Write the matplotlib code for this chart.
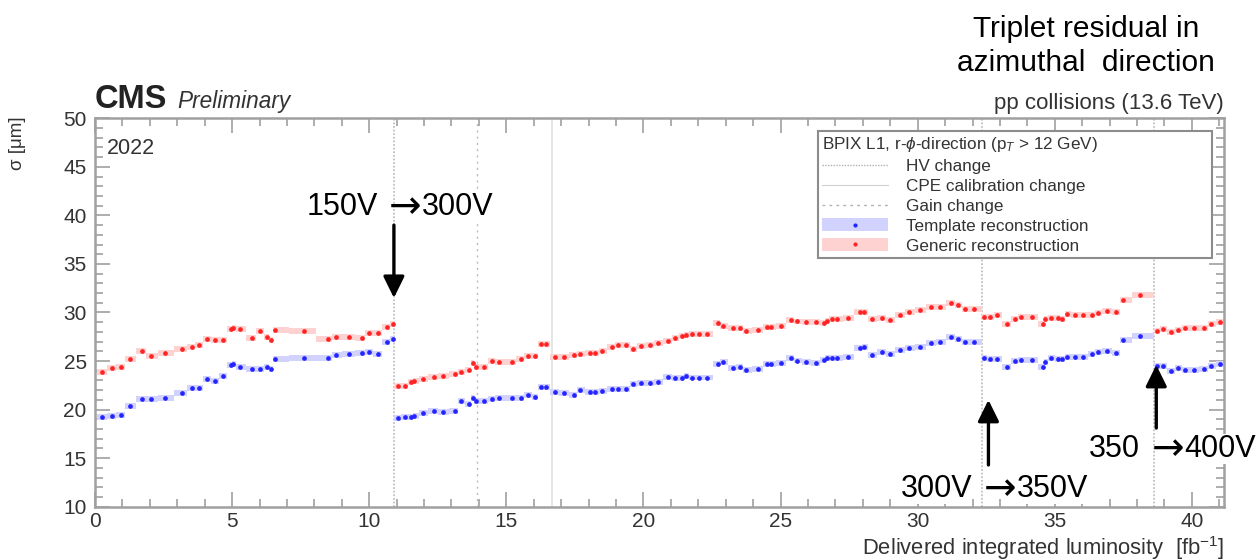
import numpy as np
import matplotlib
matplotlib.use("Agg")
import matplotlib.pyplot as plt
from matplotlib.lines import Line2D
from matplotlib.patches import Patch
from matplotlib.ticker import MultipleLocator

plt.rcParams['font.family'] = ['Liberation Sans', 'DejaVu Sans']
plt.rcParams['mathtext.fontset'] = 'custom'
plt.rcParams['mathtext.rm'] = 'Liberation Sans'
plt.rcParams['mathtext.it'] = 'Liberation Sans:italic'
plt.rcParams['mathtext.bf'] = 'Liberation Sans:bold'

# ---- luminosity of each run block [fb^-1] ----
lumi = np.array([
    0.25, 0.62, 0.93, 1.29, 1.72, 2.03, 2.55, 3.19, 3.53, 3.79,
    4.08, 4.36, 4.67, 4.96, 5.04, 5.27, 5.73, 6.03, 6.26, 6.41,
    6.56, 7.62, 8.51, 8.78, 9.26, 9.72, 9.99, 10.31, 10.64, 10.86,
    11.04, 11.30, 11.53, 11.65, 11.96, 12.36, 12.69, 13.11, 13.36, 13.63,
    13.77, 13.88, 14.17, 14.46, 14.72, 15.19, 15.53, 15.78, 16.06, 16.28,
    16.46, 16.76, 17.11, 17.48, 17.70, 18.04, 18.25, 18.50, 18.86, 19.08,
    19.38, 19.62, 19.92, 20.23, 20.53, 20.91, 21.16, 21.40, 21.56, 21.78,
    22.04, 22.33, 22.71, 22.90, 23.27, 23.51, 23.75, 24.19, 24.51, 24.64,
    25.00, 25.38, 25.60, 25.94, 26.28, 26.57, 26.70, 26.86, 27.07, 27.46,
    27.89, 28.04, 28.35, 28.70, 28.98, 29.37, 29.68, 30.09, 30.49, 30.83,
    31.21, 31.48, 31.74, 32.05,
    32.43, 32.65, 32.89, 33.24, 33.54, 33.75, 34.17, 34.58, 34.65, 34.85,
    35.13, 35.25, 35.46, 35.74, 36.04, 36.35, 36.57, 36.90, 37.24, 37.50,
    38.11,
    38.72, 38.96, 39.23, 39.51, 39.76, 40.08, 40.44, 40.70, 41.03,
])

# triplet residual width, generic reconstruction [um]
sigma_generic = np.array([
    23.90, 24.30, 24.35, 25.20, 26.07, 25.55, 25.80, 26.24, 26.48, 26.69,
    27.27, 27.20, 27.20, 28.27, 28.37, 28.27, 27.40, 28.06, 27.50, 27.17,
    28.17, 28.13, 27.30, 27.44, 27.47, 27.37, 27.89, 27.89, 28.54, 28.85,
    22.43, 22.43, 22.84, 22.98, 23.12, 23.33, 23.46, 23.63, 23.84, 24.05,
    24.83, 24.39, 24.39, 25.00, 24.86, 24.90, 25.21, 25.55, 25.52, 26.72,
    26.75, 25.42, 25.42, 25.62, 25.73, 25.83, 25.83, 26.04, 26.48, 26.69,
    26.69, 26.21, 26.52, 26.69, 26.89, 27.07, 27.37, 27.61, 27.68, 27.82,
    27.78, 27.75, 28.92, 28.61, 28.40, 28.40, 28.13, 28.16, 28.54, 28.54,
    28.61, 29.20, 29.08, 29.02, 29.02, 28.89, 29.15, 29.36, 29.36, 29.40,
    30.08, 30.08, 29.36, 29.43, 29.23, 29.77, 30.05, 30.23, 30.60, 30.60,
    30.98, 30.81, 30.39, 30.36,
    29.54, 29.57, 29.71, 28.85, 29.36, 29.50, 29.50, 28.78, 29.30, 29.47,
    29.47, 29.36, 29.81, 29.77, 29.71, 29.77, 29.98, 30.12, 30.08, 31.29,
    31.80,
    28.13, 28.33, 28.03, 28.23, 28.40, 28.44, 28.37, 28.82, 28.98,
])

# triplet residual width, template reconstruction [um]
sigma_template = np.array([
    19.24, 19.31, 19.44, 20.34, 21.06, 21.06, 21.23, 21.68, 22.22, 22.22,
    23.12, 22.98, 23.50, 24.60, 24.70, 24.42, 24.22, 24.15, 24.36, 24.22,
    25.21, 25.35, 25.35, 25.62, 25.70, 25.80, 25.93, 25.73, 26.96, 27.24,
    19.10, 19.20, 19.27, 19.30, 19.65, 19.82, 19.79, 19.82, 20.89, 20.54,
    21.16, 20.89, 20.89, 21.09, 21.23, 21.20, 21.20, 21.50, 21.30, 22.36,
    22.36, 21.78, 21.73, 21.50, 21.99, 21.81, 21.81, 21.88, 22.12, 22.15,
    22.08, 22.64, 22.70, 22.77, 22.87, 23.33, 23.26, 23.26, 23.43, 23.30,
    23.30, 23.30, 24.70, 24.87, 24.32, 24.42, 24.05, 24.15, 24.70, 24.70,
    24.77, 25.28, 25.05, 24.94, 24.83, 25.10, 25.31, 25.34, 25.34, 25.38,
    26.34, 26.41, 25.66, 25.97, 25.73, 26.10, 26.31, 26.48, 26.83, 26.93,
    27.51, 27.30, 26.93, 26.93,
    25.28, 25.17, 25.17, 24.42, 24.97, 25.10, 25.10, 24.39, 24.87, 25.34,
    25.17, 25.17, 25.45, 25.45, 25.38, 25.69, 25.97, 26.00, 25.83, 27.20,
    27.61,
    24.46, 24.46, 23.97, 24.25, 24.05, 24.05, 24.15, 24.46, 24.66,
])

SIGMA_UNC = 0.3  # half height of the uncertainty band [um]

hv_change_lumi = [10.90, 32.34, 38.62]
gain_change_lumi = [13.92]
cpe_change_lumi = [16.65]

# bias voltage before / after each HV change
hv_before = ["150V", "300V", "350"]
hv_after = ["300V", "350V", "400V"]

LUMI_MAX = 41.17

# ---- bin edges: half way between neighbours, cut at HV changes ----
mids = 0.5 * (lumi[:-1] + lumi[1:])
for hv in hv_change_lumi:
    k = np.where((lumi[:-1] < hv) & (lumi[1:] > hv))[0]
    mids[k] = hv
left = np.concatenate([[max(0.0, 2 * lumi[0] - mids[0])], mids])
right = np.concatenate([mids, [min(LUMI_MAX, 2 * lumi[-1] - mids[-1])]])

TXT = '#333333'
FRAME = '#a0a0a0'

fig = plt.figure(figsize=(12.6, 5.6), dpi=100)
ax = fig.add_axes([95 / 1260, 1 - 506.7 / 560, 1129 / 1260, 388.4 / 560])

for x in hv_change_lumi:
    ax.axvline(x, color='#c0c0c0', ls=(0, (1, 1)), lw=1.3, zorder=1)
for x in gain_change_lumi:
    ax.axvline(x, color='#bcbcbc', ls=(0, (1.5, 3)), lw=1.0, zorder=1)
for x in cpe_change_lumi:
    ax.axvline(x, color='#e6e6e6', ls='-', lw=1.4, zorder=1)

# uncertainty bands
ax.bar(left, 2 * SIGMA_UNC, width=right - left, bottom=sigma_template - SIGMA_UNC,
       align='edge', color='#d2d2ff', lw=0, zorder=2)
ax.bar(left, 2 * SIGMA_UNC, width=right - left, bottom=sigma_generic - SIGMA_UNC,
       align='edge', color='#ffd2d2', lw=0, zorder=2)
ax.plot(lumi, sigma_template, 'o', ms=3.4, color='#2424ff', mec='none', zorder=3)
ax.plot(lumi, sigma_generic, 'o', ms=3.4, color='#ff2424', mec='none', zorder=3)

ax.set_xlim(0, LUMI_MAX)
ax.set_ylim(10, 50)
ax.xaxis.set_major_locator(MultipleLocator(5))
ax.xaxis.set_minor_locator(MultipleLocator(1))
ax.yaxis.set_major_locator(MultipleLocator(5))
ax.yaxis.set_minor_locator(MultipleLocator(1))
ax.tick_params(which='both', direction='in', top=True, right=True,
               color=FRAME, width=1.2, labelcolor=TXT, labelsize=15)
ax.tick_params(which='major', length=11)
ax.tick_params(which='minor', length=5.5)
ax.tick_params(axis='x', pad=4)
ax.tick_params(axis='y', pad=6)
for s in ax.spines.values():
    s.set_color(FRAME)
    s.set_linewidth(1.8)

ax.set_xlabel(r'Delivered integrated luminosity  [fb$^{-1}$]', loc='right',
              fontsize=15.8, color=TXT, labelpad=2)
fig.text(17 / 1260, 1 - 143 / 560, '\u03c3 [\u03bcm]', rotation=90,
         ha='center', va='center', fontsize=13.5, color=TXT)

# legend
hv_h = Line2D([], [], color='#b0b0b0', ls=(0, (1, 1)), lw=1.0)
cpe_h = Line2D([], [], color='#d0d0d0', ls='-', lw=0.8)
gain_h = Line2D([], [], color='#b0b0b0', ls=(0, (2, 3)), lw=1.0)
tmpl_h = (Patch(facecolor='#d2d2ff', edgecolor='none'),
          Line2D([], [], marker='o', ms=3, color='#2424ff', mec='none', ls='none'))
gen_h = (Patch(facecolor='#ffd2d2', edgecolor='none'),
         Line2D([], [], marker='o', ms=3, color='#ff2424', mec='none', ls='none'))
leg = ax.legend([hv_h, cpe_h, gain_h, tmpl_h, gen_h],
                ['HV change', 'CPE calibration change', 'Gain change',
                 'Template reconstruction', 'Generic reconstruction'],
                title=r'BPIX L1, r-$\phi$-direction (p$_{T}$ > 12 GeV)',
                loc='upper left', bbox_to_anchor=(0.640, 0.645, 0.349, 0.322),
                mode='expand', borderaxespad=0, fancybox=False, framealpha=1,
                edgecolor='#8c8c8c', fontsize=12.3, title_fontsize=12.3,
                handlelength=3.9, handleheight=0.75, labelspacing=0.27,
                handletextpad=1.0, borderpad=0.25, alignment='left')
leg.get_frame().set_linewidth(1.5)
for t in leg.get_texts():
    t.set_color(TXT)
leg.get_title().set_color(TXT)

ax.text(0.44, 46.9, '2022', fontsize=15.5, color=TXT, va='center')

# HV change annotations: vertical arrow plus "before -> after" label
arrow_kw = dict(arrowstyle='-|>,head_length=0.65,head_width=0.32', lw=2.4,
                color='black', mutation_scale=20, shrinkA=0, shrinkB=0)
ax.annotate('', xy=(hv_change_lumi[0], 31.5), xytext=(hv_change_lumi[0], 39.0),
            arrowprops=arrow_kw, zorder=6)
ax.annotate('', xy=(32.58, 21.0), xytext=(32.58, 14.3), arrowprops=arrow_kw, zorder=6)
ax.annotate('', xy=(38.70, 24.6), xytext=(38.70, 18.1), arrowprops=arrow_kw,
            zorder=6, annotation_clip=False)

label_pos = [(11.32, 39.99), (33.00, 10.95), (39.13, 15.07)]
box = dict(facecolor='white', edgecolor='none', pad=0)
for (lx, ly), a, b in zip(label_pos, hv_before, hv_after):
    common = dict(xy=(lx, ly), textcoords='offset points', va='baseline',
                  color='black', zorder=7, annotation_clip=False)
    ax.annotate(a, xytext=(-20, 0), ha='right', fontsize=22, bbox=box, **common)
    ax.annotate('\u2192', xytext=(0, -1.5), ha='center', fontsize=28,
                family='DejaVu Sans', **common)
    ax.annotate(b, xytext=(12, 0), ha='left', fontsize=22, bbox=box, **common)

# header texts
fig.text(95 / 1260, 1 - 108 / 560, 'CMS', fontsize=23.5, weight='bold',
         color='#222222', va='baseline')
fig.text(177 / 1260, 1 - 108 / 560, 'Preliminary', fontsize=16.3, style='italic',
         color=TXT, va='baseline')
fig.text(1224 / 1260, 1 - 109 / 560, 'pp collisions (13.6 TeV)', fontsize=16,
         color=TXT, ha='right', va='baseline')
fig.text(1086 / 1260, 1 - 46 / 560, 'Triplet residual in\nazimuthal  direction',
         fontsize=21.5, color='black', ha='center', va='center', linespacing=1.24)

fig.savefig('out.png', dpi=100, facecolor='white')
